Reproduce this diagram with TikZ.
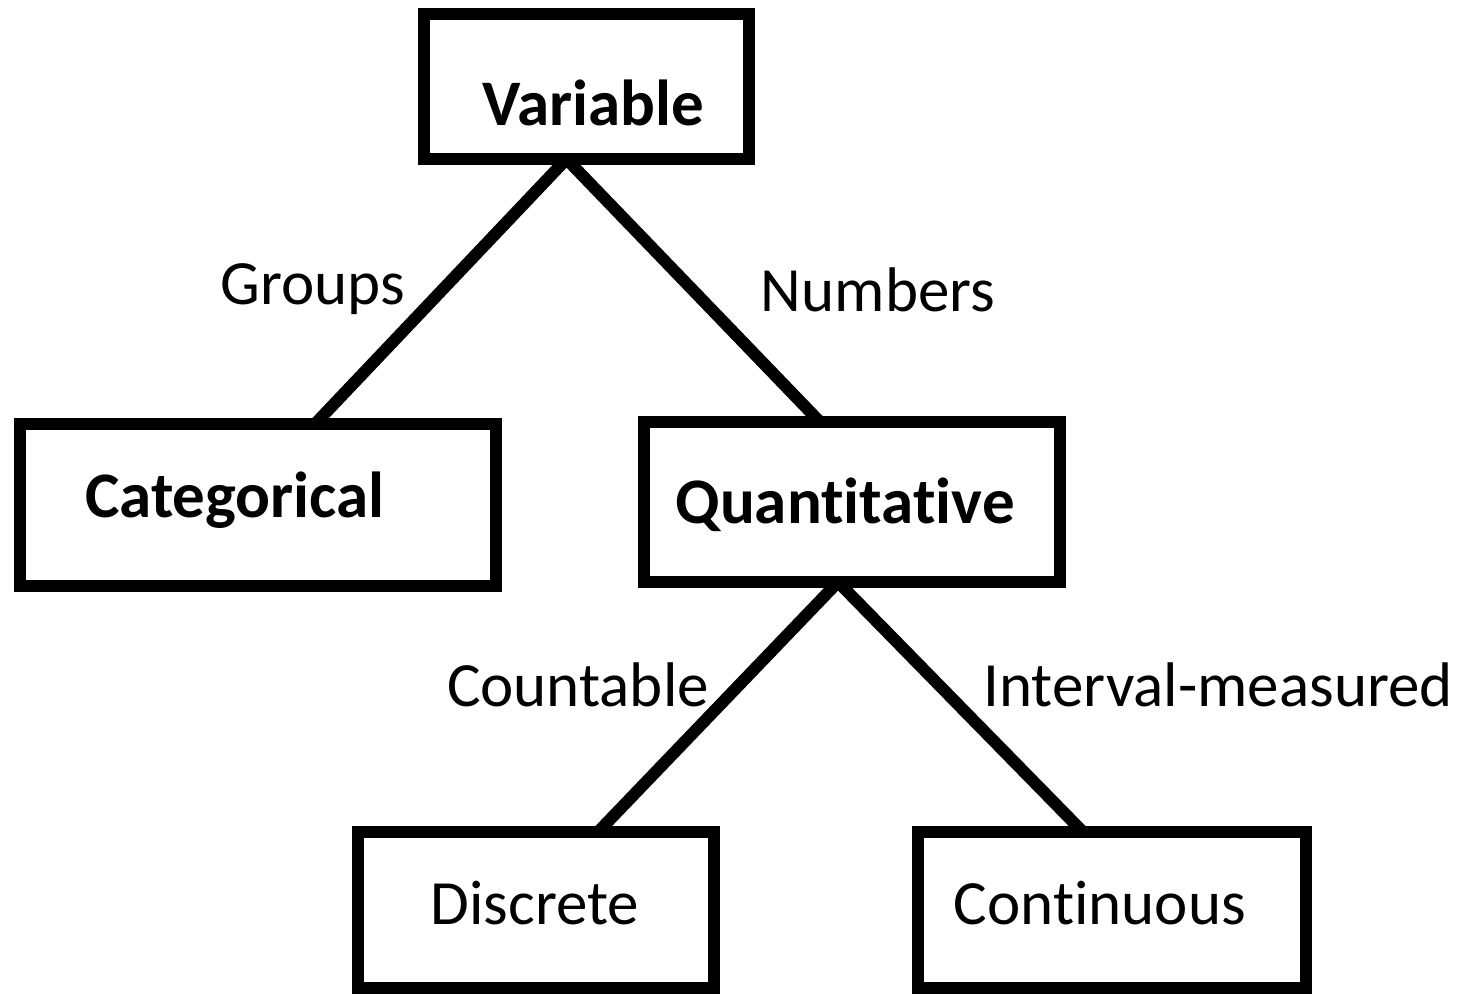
\documentclass[tikz,border=0pt]{standalone}
\usepackage{fontspec}
\setmainfont[Ligatures=NoCommon]{Carlito}
\begin{document}
\begin{tikzpicture}[x=1pt,y=-1pt,
  box/.style={draw,line width=12pt,rectangle,inner sep=0pt,outer sep=0pt},
  title/.style={font=\fontsize{65}{70}\selectfont\bfseries,inner sep=0pt},
  plain/.style={font=\fontsize{63}{66}\selectfont,inner sep=0pt},
  conn/.style={line width=12pt}]
\useasboundingbox (0,0) rectangle (1468,994);
\node[box,minimum width=325pt,minimum height=145pt] (var) at (586.5,86.5) {};
\node[box,minimum width=476pt,minimum height=162pt] (cat) at (258,505) {};
\node[box,minimum width=416pt,minimum height=160pt] (quant) at (852,502) {};
\node[box,minimum width=356pt,minimum height=156pt] (disc) at (536,910) {};
\node[box,minimum width=388pt,minimum height=156pt] (cont) at (1112,910) {};
\node[title] (tvar) at (593,103) {Variable};
\node[title] (tcat) at (235,500) {Categorical};
\node[title] (tquant) at (845,505) {Quantitative};
\node[plain] (tdisc) at (535,903) {Discrete};
\node[plain] (tcont) at (1100,903) {Continuous};
\draw[conn] ([xshift=-20pt]var.south) -- ([xshift=57pt]cat.north);
\draw[conn] ([xshift=-20pt]var.south) -- ([xshift=-32pt]quant.north);
\draw[conn] ([xshift=-14pt]quant.south) -- ([xshift=62pt]disc.north);
\draw[conn] ([xshift=-14pt]quant.south) -- ([xshift=-29pt]cont.north);
\node[plain] (lgroups) at (313,289) {Groups};
\node[plain] (lnumbers) at (878,290) {Numbers};
\node[plain] (lcount) at (578,685) {Countable};
\node[plain] (linterval) at (1218,685) {Interval-measured};
\end{tikzpicture}
\end{document}
